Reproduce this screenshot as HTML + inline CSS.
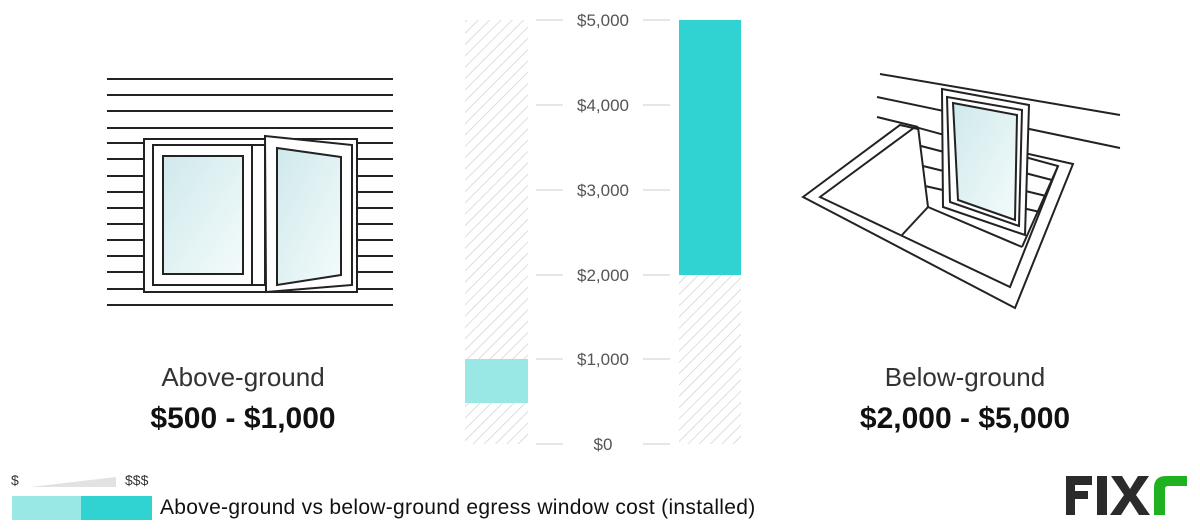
<!DOCTYPE html>
<html><head><style>
body{margin:0;width:1200px;height:532px;background:#fff;overflow:hidden;font-family:"Liberation Sans",sans-serif;position:relative}
.t{position:absolute;white-space:nowrap}
</style></head><body>
<svg width="1200" height="532" style="position:absolute;left:0;top:0">
<defs>
<pattern id="h" width="8" height="8" patternUnits="userSpaceOnUse" patternTransform="rotate(45)">
<line x1="0" y1="0" x2="0" y2="8" stroke="#cfcfcf" stroke-width="1.4"/></pattern>
<linearGradient id="g" x1="0" y1="0" x2="1" y2="1"><stop offset="0" stop-color="#cfe9ec"/><stop offset="1" stop-color="#f4fbfb"/></linearGradient>
</defs>
<!-- chart -->
<rect x="465" y="20" width="63" height="424" fill="url(#h)"/>
<rect x="679" y="20" width="62" height="424" fill="url(#h)"/>
<rect x="465" y="359" width="63" height="44" fill="#9ae8e6"/>
<rect x="679" y="20" width="62" height="255" fill="#30d3d1"/>
<g stroke="#ddd" stroke-width="1.5">
<line x1="536" y1="20" x2="563" y2="20"/><line x1="643" y1="20" x2="670" y2="20"/>
<line x1="536" y1="105" x2="563" y2="105"/><line x1="643" y1="105" x2="670" y2="105"/>
<line x1="536" y1="190" x2="563" y2="190"/><line x1="643" y1="190" x2="670" y2="190"/>
<line x1="536" y1="275" x2="563" y2="275"/><line x1="643" y1="275" x2="670" y2="275"/>
<line x1="536" y1="359" x2="563" y2="359"/><line x1="643" y1="359" x2="670" y2="359"/>
<line x1="536" y1="444" x2="563" y2="444"/><line x1="643" y1="444" x2="670" y2="444"/>
</g>
<g font-size="17" fill="#555" text-anchor="middle" font-family="Liberation Sans">
<text x="603" y="26">$5,000</text><text x="603" y="111">$4,000</text><text x="603" y="196">$3,000</text>
<text x="603" y="281">$2,000</text><text x="603" y="365">$1,000</text><text x="603" y="450">$0</text>
</g>
<!-- left drawing -->
<g stroke="#222" stroke-width="2">
<line x1="107" y1="79" x2="393" y2="79"/><line x1="107" y1="95" x2="393" y2="95"/><line x1="107" y1="111" x2="393" y2="111"/><line x1="107" y1="128" x2="393" y2="128"/>
<line x1="107" y1="143" x2="393" y2="143"/><line x1="107" y1="159" x2="393" y2="159"/><line x1="107" y1="176" x2="393" y2="176"/><line x1="107" y1="192" x2="393" y2="192"/>
<line x1="107" y1="208" x2="393" y2="208"/><line x1="107" y1="224" x2="393" y2="224"/><line x1="107" y1="240" x2="393" y2="240"/><line x1="107" y1="256" x2="393" y2="256"/>
<line x1="107" y1="272" x2="393" y2="272"/><line x1="107" y1="289" x2="393" y2="289"/><line x1="107" y1="305" x2="393" y2="305"/>
</g>
<g stroke="#222" stroke-width="2" fill="#fff">
<rect x="144" y="139" width="213" height="153"/>
<rect x="153" y="145" width="112" height="140"/>
<rect x="163" y="156" width="80" height="118" fill="url(#g)"/>
<line x1="252" y1="145" x2="252" y2="285"/>
<polygon points="265,136 352,145 352,285 266,292"/>
<polygon points="277,148 341,157 341,275 277,285" fill="url(#g)"/>
</g>
<!-- right drawing -->
<g stroke="#222" stroke-width="2" fill="none">
<polygon points="803,197 900,125 1073,164 1015,308" fill="#fff"/>
<polygon points="820,197 915,127 1058,166 1010,287"/>
<polygon points="919,129 1056,167 1022,245 929,205" fill="#fff" stroke="none"/>
<line x1="918" y1="127" x2="928" y2="207"/>
<line x1="928" y1="207" x2="902" y2="235"/>
<line x1="928" y1="207" x2="1022" y2="247"/>
<line x1="1058" y1="166" x2="1022" y2="247"/>
<line x1="921" y1="146" x2="1052" y2="180"/><line x1="923" y1="166" x2="1046" y2="196"/><line x1="925" y1="186" x2="1040" y2="212"/>
<line x1="880" y1="74" x2="1120" y2="115"/>
<line x1="877" y1="97" x2="1120" y2="148"/>
<line x1="877" y1="117" x2="918" y2="127"/>
<polygon points="942,89 1029,105 1025,235 943,207" fill="#fff"/>
<polygon points="947,97 1022,110 1019,226 950,202"/>
<polygon points="953,103 1017,115 1015,220 958,200" fill="url(#g)"/>
</g>
<!-- legend -->
<polygon points="30,487 116,477 116,487" fill="#e2e2e2"/>
<rect x="12" y="496" width="69" height="24" fill="#9ae8e6"/>
<rect x="81" y="496" width="71" height="24" fill="#30d3d1"/>
<!-- logo -->
<g fill="#2b2b2b">
<rect x="1066" y="476" width="9" height="39"/><rect x="1066" y="476" width="26" height="9"/><rect x="1066" y="491" width="22" height="8"/>
<rect x="1097" y="476" width="10" height="39"/>
<polygon points="1111,476 1122,476 1130,489 1138,476 1149,476 1136,495 1150,515 1139,515 1130,501 1121,515 1110,515 1124,495"/>
</g>
<path d="M1154 515 V488 Q1154 476 1166 476 H1187 V486 H1168 Q1165 486 1165 489 V515 Z" fill="#1fb11f"/>
</svg>
<div class="t" style="left:0;width:486px;text-align:center;top:362px;font-size:26px;color:#333">Above-ground</div>
<div class="t" style="left:0;width:486px;text-align:center;top:402px;font-size:30px;font-weight:bold;color:#111">$500 - $1,000</div>
<div class="t" style="left:730px;width:470px;text-align:center;top:362px;font-size:26px;color:#333">Below-ground</div>
<div class="t" style="left:730px;width:470px;text-align:center;top:402px;font-size:30px;font-weight:bold;color:#111">$2,000 - $5,000</div>
<div class="t" style="left:11px;top:472px;font-size:14px;color:#333">$</div>
<div class="t" style="left:125px;top:472px;font-size:14px;color:#333">$$$</div>
<div class="t" style="left:160px;top:496px;font-size:21px;letter-spacing:0.3px;color:#111">Above-ground vs below-ground egress window cost (installed)</div>
</body></html>
